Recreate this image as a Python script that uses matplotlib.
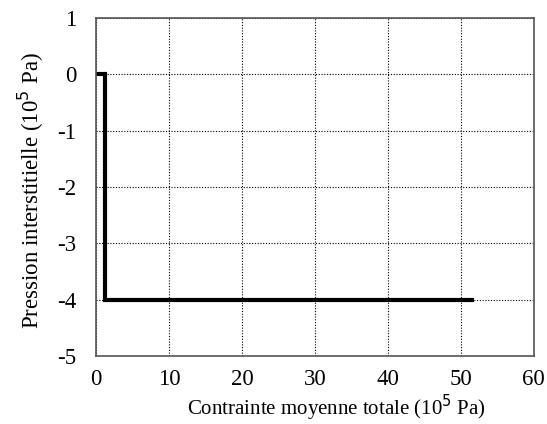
import matplotlib
matplotlib.use('Agg')
import matplotlib.pyplot as plt

# path of the stress trajectory
contrainte = [0, 1.2, 1.2, 51.5]
pression = [0, 0, -4, -4]

x_ticks = [0, 10, 20, 30, 40, 50, 60]
y_ticks = [-5, -4, -3, -2, -1, 0, 1]
y_labels = ['-5', '-4', '-3', '-2', '-1', '0', '1']

plt.rcParams['font.family'] = ['Liberation Serif', 'DejaVu Serif']
plt.rcParams['axes.unicode_minus'] = False

fig = plt.figure(figsize=(5.47, 4.24), dpi=100)
ax = fig.add_axes([0.1755, 0.160, 0.8005, 0.7975])

ax.plot(contrainte, pression, color='black', linewidth=3, solid_joinstyle='miter')

ax.set_xlim(0, 60)
ax.set_ylim(-5, 1)
ax.set_xticks(x_ticks)
ax.set_yticks(y_ticks)
ax.set_yticklabels(y_labels)
ax.tick_params(length=0, labelsize=16.5)
ax.tick_params(axis='x', pad=9)
ax.tick_params(axis='y', pad=14)
ax.grid(True, color='black', linestyle=(0, (1, 1.5)), linewidth=0.8)

for s in ax.spines.values():
    s.set_color('#555555')
    s.set_linewidth(1.2)

ax.set_xlabel('Contrainte moyenne totale (10$^5$ Pa)', fontsize=15, labelpad=2, x=0.55)
ax.set_ylabel('Pression interstitielle (10$^5$ Pa)', fontsize=16.5, labelpad=8, y=0.49)

fig.savefig('out.png', dpi=100)
